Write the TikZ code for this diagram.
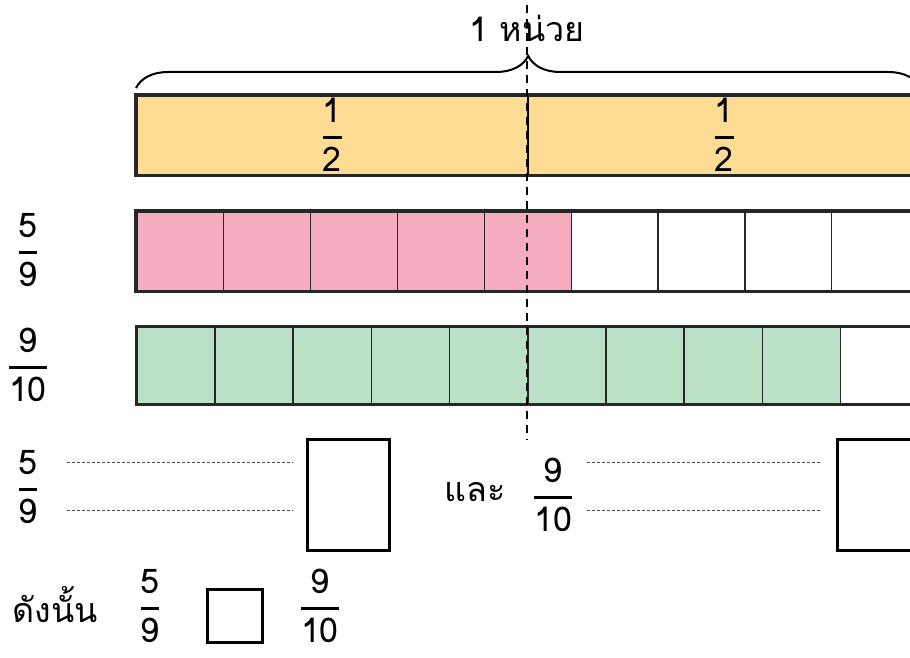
\documentclass[tikz,border=0pt]{standalone}
\usepackage{fontspec}
\usepackage{amsmath}
\setmainfont[Script=Thai]{Loma}
\usetikzlibrary{positioning, decorations.pathreplacing}

\definecolor{halfyellow}{RGB}{254,220,148}
\definecolor{ninthpink}{RGB}{246,172,191}
\definecolor{tenthgreen}{RGB}{186,224,199}
\newcommand{\frc}[2]{$\genfrac{}{}{1.4pt}{0}{\text{#1}}{\text{#2}}$}

\begin{document}
\begin{tikzpicture}[x=0.5pt, y=-0.5pt, inner sep=0pt, font=\fontsize{17}{20}\selectfont]
\tikzstyle{half}=[draw=black, line width=0.6pt, fill=halfyellow, minimum width=195.5pt, minimum height=39.5pt, anchor=north west]
\tikzstyle{ninth}=[draw=black!85, line width=0.6pt, minimum width=43.45pt, minimum height=39.5pt, anchor=north west]
\tikzstyle{tenth}=[draw=black!85, line width=0.8pt, minimum width=39.1pt, minimum height=38.5pt, anchor=north west]
\tikzstyle{rim}=[draw=black!85, line width=1.6pt]
\tikzstyle{ans}=[draw=black, line width=1.3pt, anchor=north west]
\tikzstyle{guide}=[draw=black!70, line width=0.5pt, dash pattern=on 1.5pt off 1pt]

\useasboundingbox (0,0) rectangle (910,658);

% one whole, cut in halves
\node[half]   		(h1) at (136,95)   {\frc{1}{2}};
\node[half]   		(h2)[right=0pt of h1]   {\frc{1}{2}};
\draw[rim] (h2.north east) -- (h1.north west) -- (h1.south west) -- (h2.south east);

% ninths
\foreach \i in {1,...,5}
  \node[ninth, fill=ninthpink] (p\i) at ({136+(\i-1)*86.9},211) {};
\foreach \i in {6,...,9}
  \node[ninth, fill=white] (p\i) at ({136+(\i-1)*86.9},211) {};
\draw[rim] (p9.north east) -- (p1.north west) -- (p1.south west) -- (p9.south east);

% tenths
\foreach \i in {1,...,9}
  \node[tenth, fill=tenthgreen] (g\i) at ({136+(\i-1)*78.2},326) {};
\node[tenth, fill=white] (g10) at ({136+9*78.2},326) {};
\draw[draw=black!85, line width=1.1pt] (g10.north east) -- (g1.north west) -- (g1.south west) -- (g10.south east);

\node    (f59)  at (28,250)   {\frc{5}{9}};
\node    (f910) at (28,365)   {\frc{9}{10}};

% brace and half mark
\draw[line width=1pt, decorate, decoration={brace, amplitude=16pt}] ([yshift=3.5pt]h1.north west) -- ([yshift=3.5pt]h2.north east);
\node    (unit) at (527,28)   {1 หน่วย};
\coordinate (top) at (527,5);
\coordinate (bot) at (527,440);
\draw[line width=1pt, dash pattern=on 4pt off 3pt] (top) -- (bot);

% compare each with one half
\node    (a59)  at (28,487)   {\frc{5}{9}};
\node[ans, minimum width=41pt, minimum height=55.5pt]   (box1) at (306,438) {};
\coordinate (l1) at (67,462);
\coordinate (l2) at (67,510);
\draw[guide] (l1) -- ([xshift=-6.5pt]l1 -| box1.west);
\draw[guide] (l2) -- ([xshift=-6.5pt]l2 -| box1.west);

\node    (and)  at (475,492)  {และ};
\node    (a910) at (553,495)  {\frc{9}{10}};
\node[ans, minimum width=41pt, minimum height=55.5pt]   (box2) at (836,438) {};
\coordinate (r1) at (587,462);
\coordinate (r2) at (587,510);
\draw[guide] (r1) -- ([xshift=-8pt]r1 -| box2.west);
\draw[guide] (r2) -- ([xshift=-8pt]r2 -| box2.west);

% conclusion
\node    (so)   at (55,605)   {ดังนั้น};
\node    (c59)  at (150,606)  {\frc{5}{9}};
\node[ans, minimum width=27.5pt, minimum height=26.5pt]   (box3) at (206,588) {};
\node    (c910) at (320,606)  {\frc{9}{10}};

\end{tikzpicture}
\end{document}
